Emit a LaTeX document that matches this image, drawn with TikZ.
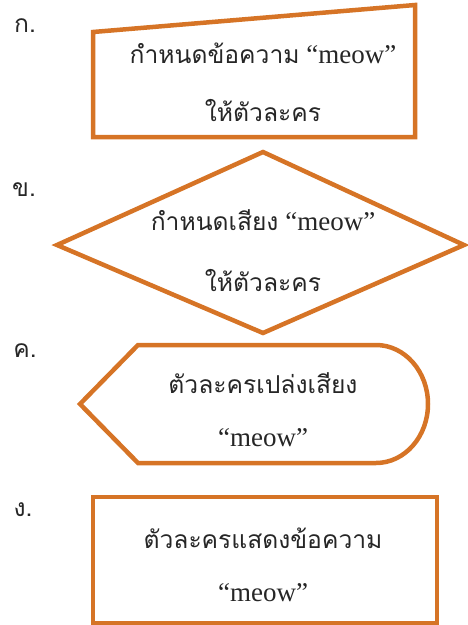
\documentclass[tikz,border=0pt]{standalone}
\usepackage{fontspec}
\setmainfont{Liberation Serif}
\newfontfamily\thaifont[Script=Thai,Scale=1.12]{Loma}
\definecolor{shporange}{RGB}{214,116,38}
\begin{document}
\begin{tikzpicture}[x=1pt,y=-1pt,
  shp/.style={draw=shporange,line width=4.5pt,line join=miter},
  txt/.style={inner sep=0pt,font=\fontsize{27}{30}\selectfont,text=black!85},
  lbl/.style={inner sep=0pt,font=\thaifont\fontsize{22}{24}\selectfont,text=black!85}]
\useasboundingbox (0,0) rectangle (467,625);
% shape 1: manual input
\draw[shp] (93,32) -- (415,5) -- (415,137) -- (93,137) -- cycle;
% shape 2: decision
\draw[shp] (263,152) -- (464,245) -- (263,333) -- (57,245) -- cycle;
% shape 3: display
\draw[shp] (80,404) -- (138,345) -- (376,345)
  arc[start angle=90,end angle=-90,x radius=52pt,y radius=59pt]
  -- (138,463) -- cycle;
% shape 4: rectangle
\draw[shp] (93,497) rectangle (437,623);
% labels
\node[lbl] (la) at (25,26) {ก.};
\node[lbl] (lb) at (24,190) {ข.};
\node[lbl] (lc) at (25,351) {ค.};
\node[lbl] (ld) at (23,510) {ง.};
% texts
\node[txt] (a1) at (263,53) {{\thaifont\fontsize{22}{26}\selectfont กำหนดข้อความ} “meow”};
\node[txt] (a2) at (263,110) {\thaifont\fontsize{22}{26}\selectfont ให้ตัวละคร};
\node[txt] (b1) at (263,220) {{\thaifont\fontsize{22}{26}\selectfont กำหนดเสียง} “meow”};
\node[txt] (b2) at (263,280) {\thaifont\fontsize{22}{26}\selectfont ให้ตัวละคร};
\node[txt] (c1) at (263,383) {\thaifont\fontsize{22}{26}\selectfont ตัวละครเปล่งเสียง};
\node[txt] (c2) at (263,438) {“meow”};
\node[txt] (d1) at (263,538) {\thaifont\fontsize{22}{26}\selectfont ตัวละครแสดงข้อความ};
\node[txt] (d2) at (263,593) {“meow”};
\end{tikzpicture}
\end{document}
